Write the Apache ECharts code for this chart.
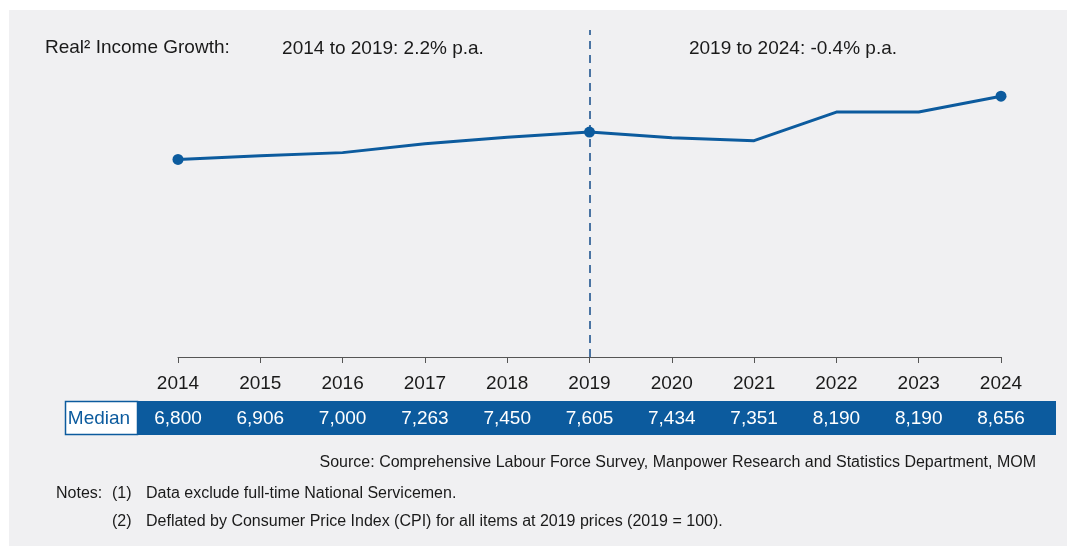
<!DOCTYPE html>
<html>
<head>
<meta charset="utf-8">
<script src="https://cdn.jsdelivr.net/npm/echarts@6/dist/echarts.min.js"></script>
<style>
  html, body { margin: 0; padding: 0; background: #ffffff; }
  #chart { width: 1067px; height: 546px; }
</style>
</head>
<body>
<div id="chart"></div>
<script>
// Median real income (S$), 2014-2024
const years = ['2014', '2015', '2016', '2017', '2018', '2019', '2020', '2021', '2022', '2023', '2024'];
const medianIncome = [6800, 6906, 7000, 7263, 7450, 7605, 7434, 7351, 8190, 8190, 8656];
const markedYears = ['2014', '2019', '2024'];
const splitYear = '2019';
const growthLabels = ['2014 to 2019: 2.2% p.a.', '2019 to 2024: -0.4% p.a.'];
const rowLabel = 'Median';

const BLUE = '#0c5b9e';
const INK = '#1a1a1a';
const FONT = '"Liberation Sans", Arial, sans-serif';

const fmt = v => v.toLocaleString('en-US');

const chart = echarts.init(document.getElementById('chart'), null, { renderer: 'canvas' });

const lineData = medianIncome.map((v, i) => ({
  value: v,
  symbolSize: markedYears.includes(years[i]) ? 11 : 0
}));

function txt(x, y, text, size, align, fill) {
  return {
    type: 'text', silent: true, x: x, y: y,
    style: { text: text, fill: fill || INK, font: size + 'px ' + FONT, align: align, verticalAlign: 'middle' }
  };
}

chart.setOption({
  animation: false,
  backgroundColor: '#ffffff',
  textStyle: { fontFamily: FONT },
  grid: { left: 178, right: 66, top: 30, bottom: 189 },
  xAxis: [
    {
      type: 'category',
      data: years,
      boundaryGap: false,
      axisLine: { lineStyle: { color: '#555555', width: 1 } },
      axisTick: { show: true, length: 6, lineStyle: { color: '#555555' } },
      axisLabel: {
        color: INK, fontSize: 19, fontFamily: FONT,
        margin: 27, verticalAlign: 'middle', interval: 0
      }
    },
    {
      // value row underneath the year labels
      type: 'category',
      data: years,
      position: 'bottom',
      boundaryGap: false,
      axisLine: { show: false },
      axisTick: { show: false },
      axisLabel: {
        color: '#ffffff', fontSize: 19, fontFamily: FONT,
        margin: 62, verticalAlign: 'middle', interval: 0,
        formatter: (val, idx) => fmt(medianIncome[idx])
      }
    }
  ],
  yAxis: {
    type: 'value',
    min: 1000,
    max: 10600,
    show: false,
    splitLine: { show: false }
  },
  graphic: [
    // panel background
    { type: 'rect', z: -10, silent: true,
      shape: { x: 9, y: 10, width: 1058, height: 536 },
      style: { fill: '#f0f0f2' } },
    // table row
    { type: 'rect', z: -5, silent: true,
      shape: { x: 137, y: 401, width: 919, height: 34 },
      style: { fill: BLUE } },
    { type: 'rect', z: -5, silent: true,
      shape: { x: 65.5, y: 401.5, width: 72, height: 33 },
      style: { fill: '#ffffff', stroke: BLUE, lineWidth: 1.5 } },
    txt(99, 419, rowLabel, 19, 'center', BLUE),
    // headline texts
    txt(45, 48, 'Real² Income Growth:', 19, 'left'),
    txt(383, 49, growthLabels[0], 19, 'center'),
    txt(793, 49, growthLabels[1], 19, 'center'),
    // source and notes
    txt(1036, 463, 'Source: Comprehensive Labour Force Survey, Manpower Research and Statistics Department, MOM', 16, 'right'),
    txt(56, 494, 'Notes:', 16, 'left'),
    txt(112, 494, '(1)', 16, 'left'),
    txt(146, 494, 'Data exclude full-time National Servicemen.', 16, 'left'),
    txt(112, 522, '(2)', 16, 'left'),
    txt(146, 522, 'Deflated by Consumer Price Index (CPI) for all items at 2019 prices (2019 = 100).', 16, 'left')
  ],
  series: [
    {
      type: 'line',
      xAxisIndex: 0,
      data: lineData,
      symbol: 'circle',
      showSymbol: true,
      lineStyle: { color: BLUE, width: 3 },
      itemStyle: { color: BLUE },
      emphasis: { disabled: true },
      z: 5,
      markLine: {
        silent: true,
        symbol: ['none', 'none'],
        label: { show: false },
        lineStyle: { color: '#4a74a3', width: 2, type: [8, 6] },
        data: [{ xAxis: splitYear }],
        z: 3
      }
    }
  ]
});
</script>
</body>
</html>
